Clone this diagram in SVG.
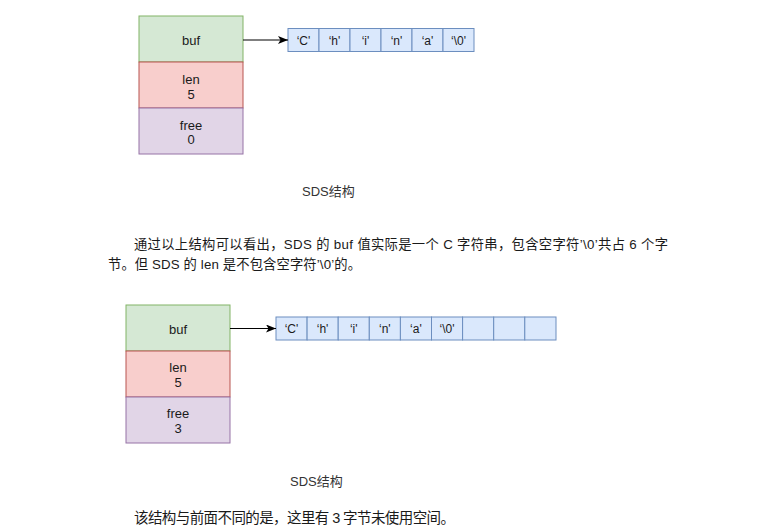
<svg xmlns="http://www.w3.org/2000/svg" width="775" height="530" viewBox="0 0 775 530">
<style>
.g{fill:#d5e8d4;stroke:#82b366;stroke-width:1}
.r{fill:#f8cecc;stroke:#b85450;stroke-width:1}
.p{fill:#e1d5e7;stroke:#9673a6;stroke-width:1}
.b{fill:#dae8fc;stroke:#6c8ebf;stroke-width:1}
.t{font-family:"Liberation Sans",Arial,sans-serif;font-size:13px;fill:#1a1a1a;text-anchor:middle}
.c{font-family:"Liberation Sans",Arial,sans-serif;font-size:12px;fill:#1a1a1a;text-anchor:middle}
.cap{font-family:"Liberation Sans","Noto Sans CJK SC",sans-serif;font-size:13px;fill:#333}
.para{font-family:"Liberation Sans","Noto Sans CJK SC",sans-serif;font-size:13.3px;fill:#1a1a1a}
.conn{stroke:#000;stroke-width:1.2;fill:none}
</style>
<defs>
<marker id="arr" markerUnits="userSpaceOnUse" markerWidth="12" markerHeight="10" refX="10" refY="4" orient="auto">
<path d="M0,0 L10,4 L0,8 L2.5,4 Z" fill="#000"/>
</marker>
</defs>

<rect width="775" height="530" fill="#fff"/>

<!-- top diagram -->
<g id="sds1">
<g id="sds1-buf"><rect class="g" x="139" y="16" width="104" height="46"/><text class="t" x="191" y="45">buf</text></g>
<g id="sds1-len"><rect class="r" x="139" y="62" width="104" height="46"/><text class="t" x="191" y="83.5">len</text><text class="t" x="191" y="98.5">5</text></g>
<g id="sds1-free"><rect class="p" x="139" y="108" width="104" height="46"/><text class="t" x="191" y="129.5">free</text><text class="t" x="191" y="144">0</text></g>
</g>
<g id="arr1">
<g id="arr1-0"><rect class="b" x="288" y="28.5" width="31" height="23"/><text class="c" x="303.5" y="44.5">‘C'</text></g>
<g id="arr1-1"><rect class="b" x="319" y="28.5" width="31" height="23"/><text class="c" x="334.5" y="44.5">‘h'</text></g>
<g id="arr1-2"><rect class="b" x="350" y="28.5" width="31" height="23"/><text class="c" x="365.5" y="44.5">‘i'</text></g>
<g id="arr1-3"><rect class="b" x="381" y="28.5" width="31" height="23"/><text class="c" x="396.5" y="44.5">‘n'</text></g>
<g id="arr1-4"><rect class="b" x="412" y="28.5" width="31" height="23"/><text class="c" x="427.5" y="44.5">‘a'</text></g>
<g id="arr1-5"><rect class="b" x="443" y="28.5" width="31" height="23"/><text class="c" x="458.5" y="44.5">‘\0'</text></g>
</g>

<!-- bottom diagram -->
<g id="sds2">
<g id="sds2-buf"><rect class="g" x="126" y="305" width="104" height="46"/><text class="t" x="178" y="334">buf</text></g>
<g id="sds2-len"><rect class="r" x="126" y="351" width="104" height="46"/><text class="t" x="178" y="372">len</text><text class="t" x="178" y="387">5</text></g>
<g id="sds2-free"><rect class="p" x="126" y="397" width="104" height="46"/><text class="t" x="178" y="418">free</text><text class="t" x="178" y="433">3</text></g>
</g>
<g id="arr2">
<g id="arr2-0"><rect class="b" x="276" y="317" width="31.1" height="23"/><text class="c" x="291.5" y="333">‘C'</text></g>
<g id="arr2-1"><rect class="b" x="307.1" y="317" width="31.1" height="23"/><text class="c" x="322.6" y="333">‘h'</text></g>
<g id="arr2-2"><rect class="b" x="338.2" y="317" width="31.1" height="23"/><text class="c" x="353.7" y="333">‘i'</text></g>
<g id="arr2-3"><rect class="b" x="369.3" y="317" width="31.1" height="23"/><text class="c" x="384.8" y="333">‘n'</text></g>
<g id="arr2-4"><rect class="b" x="400.4" y="317" width="31.1" height="23"/><text class="c" x="415.9" y="333">‘a'</text></g>
<g id="arr2-5"><rect class="b" x="431.5" y="317" width="31.1" height="23"/><text class="c" x="447" y="333">‘\0'</text></g>
<g id="arr2-6"><rect class="b" x="462.6" y="317" width="31.1" height="23"/></g>
<g id="arr2-7"><rect class="b" x="493.7" y="317" width="31.1" height="23"/></g>
<g id="arr2-8"><rect class="b" x="524.8" y="317" width="31.2" height="23"/></g>
</g>

<g id="connectors">
<line class="conn" x1="243" y1="40" x2="288" y2="40" marker-end="url(#arr)"/>
<line class="conn" x1="230" y1="328.5" x2="276" y2="328.5" marker-end="url(#arr)"/>
</g>

<!-- captions and body text -->
<text class="cap" x="302" y="196">SDS结构</text>
<text class="para" x="134" y="249" textLength="534" lengthAdjust="spacing">通过以上结构可以看出，SDS 的 buf 值实际是一个 C 字符串，包含空字符’\0’共占 6 个字</text>
<text class="para" x="108" y="269" textLength="253" lengthAdjust="spacing">节。但 SDS 的 len 是不包含空字符’\0’的。</text>
<text class="cap" x="290" y="486">SDS结构</text>
<text class="para" x="134" y="523" style="font-size:14.5px" textLength="321" lengthAdjust="spacing">该结构与前面不同的是，这里有 3 字节未使用空间。</text>
</svg>
